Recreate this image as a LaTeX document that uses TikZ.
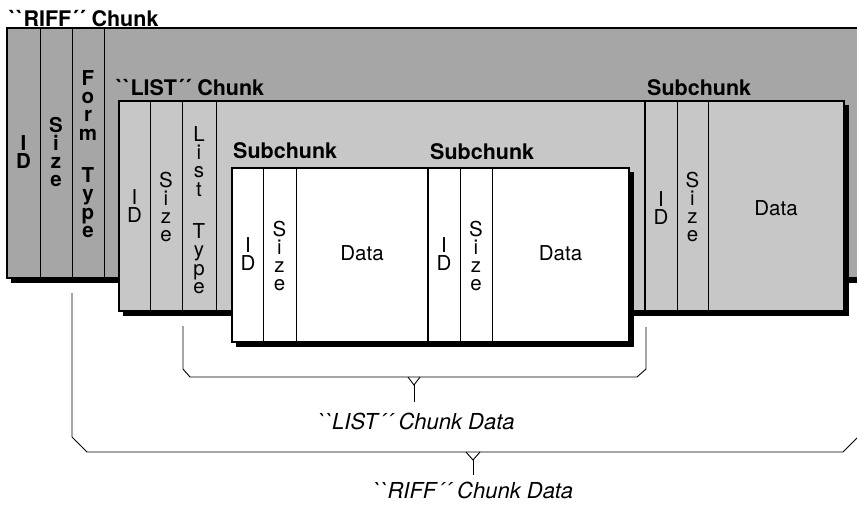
\documentclass[tikz,border=0pt]{standalone}
\usepackage{fontspec}
\setmainfont{TeX Gyre Heros}[Ligatures=TeXOff]
\definecolor{riffgray}{gray}{0.65}
\definecolor{listgray}{gray}{0.78}
\begin{document}
\begin{tikzpicture}[x=1pt,y=-1pt,
  box/.style={draw=black, line width=1.4pt},
  shade/.style={fill=black},
  col/.style={draw=black, line width=1pt},
  bt/.style={font=\fontsize{21.5}{21.5}\selectfont\bfseries, inner sep=0pt, anchor=base west},
  vb/.style={font=\fontsize{20.5}{18.3}\selectfont\bfseries, align=center, inner sep=0pt},
  vr/.style={font=\fontsize{20.5}{18.3}\selectfont, align=center, inner sep=0pt},
  dt/.style={font=\fontsize{20.5}{20.5}\selectfont, inner sep=0pt},
  it/.style={font=\fontsize{22}{22}\selectfont\itshape, inner sep=0pt, anchor=base},
  brk/.style={draw=black, line width=0.9pt, line join=miter}]
\useasboundingbox (0,0) rectangle (857,504);
\clip (0,0) rectangle (857,504);
\fill[white] (0,0) rectangle (857,504);

% RIFF chunk
\path[shade] (11,32) rectangle (867,283);
\path[box, fill=riffgray] (7,28) rectangle (862,278);
\foreach \x in {40,72,104} \draw[col] (\x,28) -- (\x,278);

% LIST chunk
\path[shade] (123,105) rectangle (649,316);
\path[box, fill=listgray] (119,101) rectangle (645,311);
\foreach \x in {150,182,216} \draw[col] (\x,101) -- (\x,311);

% right subchunk
\path[shade] (649,105) rectangle (849,316);
\path[box, fill=listgray] (645,101) rectangle (844,311);
\draw[line width=2pt] (645,101) -- (645,311);
\foreach \x in {677,708} \draw[col] (\x,101) -- (\x,311);

% white subchunks
\path[shade] (236,172) rectangle (433,347);
\path[box, fill=white] (232,168) rectangle (428,342);
\foreach \x in {263,296} \draw[col] (\x,168) -- (\x,342);
\path[shade] (432,172) rectangle (634,347);
\path[box, fill=white] (428,168) rectangle (629,342);
\draw[line width=2.4pt] (428,168) -- (428,342);
\foreach \x in {460,492} \draw[col] (\x,168) -- (\x,342);

% titles
\node[bt] (triff) at (9,26) {``RIFF´´ Chunk};
\node[bt] (tlist) at (116,95) {``LIST´´ Chunk};
\node[bt] (tsub1) at (233,158) {Subchunk};
\node[bt] (tsub2) at (430,159) {Subchunk};
\node[bt] (tsub3) at (647,95) {Subchunk};

% RIFF fields
\node[vb] (rid) at (23.5,152) {I\\D};
\node[vb] (rsize) at (56,152) {S\\i\\z\\e};
\node[vb] (rform) at (88,154) {F\\o\\r\\m\\[24pt]T\\y\\p\\e};

% LIST fields
\node[vr] (lid) at (134.5,206) {I\\D};
\node[vr] (lsize) at (166,207) {S\\i\\z\\e};
\node[vr] (ltype) at (199,210) {L\\i\\s\\t\\[24pt]T\\y\\p\\e};

% subchunk 1
\node[vr] (aid) at (248,254) {I\\D};
\node[vr] (asize) at (279.5,256) {S\\i\\z\\e};
\node[dt] (adata) at (362,253) {Data};
% subchunk 2
\node[vr] (bid) at (444,254) {I\\D};
\node[vr] (bsize) at (476,256) {S\\i\\z\\e};
\node[dt] (bdata) at (560.5,253) {Data};
% right subchunk
\node[vr] (cid) at (661,208) {I\\D};
\node[vr] (csize) at (692.5,207) {S\\i\\z\\e};
\node[dt] (cdata) at (776,208) {Data};

% LIST data bracket
\coordinate (la) at (183,326);
\coordinate (lb) at (646,327);
\coordinate (lt) at (414,385);
\node[it] (llab) at (416,429) {``LIST´´ Chunk Data};
\draw[brk] (la) -- (183,369) -- (190,377) -- (637,377) -- (646,369) -- (lb);
\draw[brk] (408,377) -- (lt) -- (420,377);
\draw[brk] (lt) -- (414,402);

% RIFF data bracket
\coordinate (ra) at (72,293);
\coordinate (rb) at (858,293);
\coordinate (rt) at (473,460);
\node[it] (rlab) at (473,498) {``RIFF´´ Chunk Data};
\draw[brk] (ra) -- (72,437) -- (87,452) -- (843,452) -- (858,437) -- (rb);
\draw[brk] (466,452) -- (rt) -- (480,452);
\draw[brk] (rt) -- (473,475);
\end{tikzpicture}
\end{document}
